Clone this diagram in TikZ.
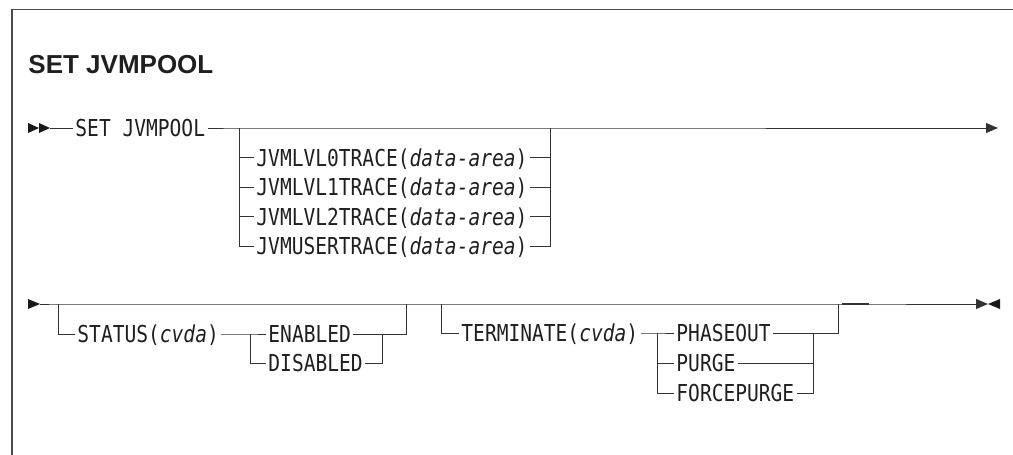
\documentclass[tikz,border=0pt]{standalone}
\usepackage{fontspec}
\setmainfont{Liberation Sans}
\newfontfamily\rrfont[FakeStretch=0.84]{DejaVu Sans Mono}
\usetikzlibrary{positioning,arrows.meta}

\begin{document}
\begin{tikzpicture}[x=1pt,y=-1pt,line width=0.9pt,
 kw/.style={font=\rrfont\fontsize{23.3}{28}\selectfont,text=black!88,
   text height=17pt,text depth=0pt,inner xsep=2pt,inner ysep=0pt,anchor=west},
 rail/.style={draw=black!80},
 frame/.style={draw=black!70,line width=1.6pt},
 tip/.style={fill=black!90},
 endarr/.style={-{Triangle[length=12pt,width=10pt]}}]
\useasboundingbox (0,0) rectangle (1013,455);
\draw[frame] (12,455) -- (12,9.5) -- (1013,9.5);
\node[font=\bfseries\fontsize{26}{30}\selectfont,text=black!88,anchor=base west,inner sep=0pt] (title) at (28,73) {SET JVMPOOL};

% first line
\coordinate (s1) at (28,128);
\coordinate (s1e) at (50,128);
\fill[tip] (s1) ++(0,-5) -- ++(11,5) -- ++(-11,5) -- cycle;
\fill[tip] (s1) ++(11,-5) -- ++(11,5) -- ++(-11,5) -- cycle;
\node[kw] (set) at (73,128) {SET JVMPOOL};
\coordinate (b1) at (239,128);
\coordinate (m1) at (550,128);
\coordinate (e1) at (998,128);
\draw[rail] (s1e) -- (set);
\draw[rail,endarr] (set) -- (b1) -- (m1) -- (e1);
\foreach \t [count=\i] in {JVMLVL0TRACE,JVMLVL1TRACE,JVMLVL2TRACE,JVMUSERTRACE} {
  \node[kw] (o\i) at (254,128+29.5*\i) {\t(\textit{data-area})};
  \draw[rail] (b1) |- (o\i);
  \draw[rail] (o\i) -| (m1);
}

% second line
\coordinate (s2) at (28,304);
\coordinate (s2e) at (40,304);
\fill[tip] (s2) ++(0,-5) -- ++(12,5) -- ++(-12,5) -- cycle;
\coordinate (g1) at (58,304);
\coordinate (g1r) at (406,304);
\coordinate (g2) at (441,304);
\coordinate (g2r) at (838,304);
\coordinate (g2t) at (869,304);
\coordinate (e2) at (988,304);
\coordinate (e2r) at (1000,304);
\draw[rail,endarr] (s2e) -- (g1) -- (g1r) -- (g2) -- (g2r) -- (e2);
\draw[rail,line width=2pt] (g2r) ++(4,0) -- (g2t);
\fill[tip] (e2r) ++(0,-5) -- (e2) -- ++(12,5) -- cycle;

% STATUS
\node[kw] (st) at (75,334) {STATUS(\textit{cvda})};
\coordinate (c1) at (250,334);
\coordinate (c1r) at (382,334);
\node[kw] (en) at (266,334) {ENABLED};
\node[kw] (di) at (266,363) {DISABLED};
\draw[rail] (g1) |- (st);
\draw[rail] (st) -- (c1) -- (en);
\draw[rail] (c1) |- (di);
\draw[rail] (en) -- (g1r |- en) -- (g1r);
\draw[rail] (di) -| (c1r);

% TERMINATE
\node[kw] (te) at (459,333) {TERMINATE(\textit{cvda})};
\coordinate (c2) at (657,333);
\coordinate (c2r) at (813,333);
\node[kw] (ph) at (674,333) {PHASEOUT};
\node[kw] (pu) at (674,363) {PURGE};
\node[kw] (fp) at (674,393) {FORCEPURGE};
\draw[rail] (g2) |- (te);
\draw[rail] (te) -- (c2) -- (ph);
\draw[rail] (c2) |- (pu);
\draw[rail] (c2) |- (fp);
\draw[rail] (ph) -- (g2r |- ph) -- (g2r);
\draw[rail] (pu) -| (c2r);
\draw[rail] (fp) -| (c2r);
\end{tikzpicture}
\end{document}
